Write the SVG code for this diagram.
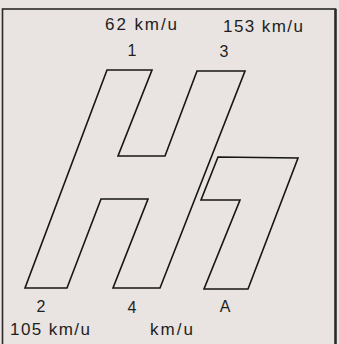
<svg xmlns="http://www.w3.org/2000/svg" width="339" height="344" viewBox="0 0 339 344">
<style>
.bg{fill:#e9e4e1}
.frame{fill:none;stroke:#2a2a2a;stroke-width:1.6}
.shape{fill:none;stroke:#161616;stroke-width:1.6;stroke-linejoin:miter}
.lbl{font-family:"Liberation Sans",Arial,sans-serif;font-size:17px;fill:#1e1e1e}
.num{font-family:"Liberation Sans",Arial,sans-serif;font-size:16px;fill:#1e1e1e;text-anchor:middle}
</style>
<rect class="bg" x="0" y="0" width="339" height="344"/>
<rect class="frame" x="2.5" y="9" width="333" height="340"/>
<line x1="335.5" y1="9" x2="335.5" y2="344" stroke="#2a2a2a" stroke-width="2.4"/>
<g id="connectors"></g>
<g id="shape-H">
<polygon class="shape" points="107,70 152,70 118,156 165,156 197,71 245,71 160,288 113,288 148,199 101,199 67,288 25,288"/>
</g>
<g id="shape-A">
<polygon class="shape" points="218,157 298,158 248,289 204,289 240,200 201,200"/>
</g>
<g id="labels">
<text class="lbl" x="105" y="30" textLength="72" lengthAdjust="spacing">62 km/u</text>
<text class="lbl" x="223" y="32" textLength="80" lengthAdjust="spacing">153 km/u</text>
<text class="lbl" x="10" y="335" textLength="80" lengthAdjust="spacing">105 km/u</text>
<text class="lbl" x="150" y="335" textLength="43" lengthAdjust="spacing">km/u</text>
<text class="num" x="132" y="56">1</text>
<text class="num" x="224" y="57">3</text>
<text class="num" x="41" y="312">2</text>
<text class="num" x="132" y="313">4</text>
<text class="num" x="225" y="312">A</text>
</g>
</svg>
